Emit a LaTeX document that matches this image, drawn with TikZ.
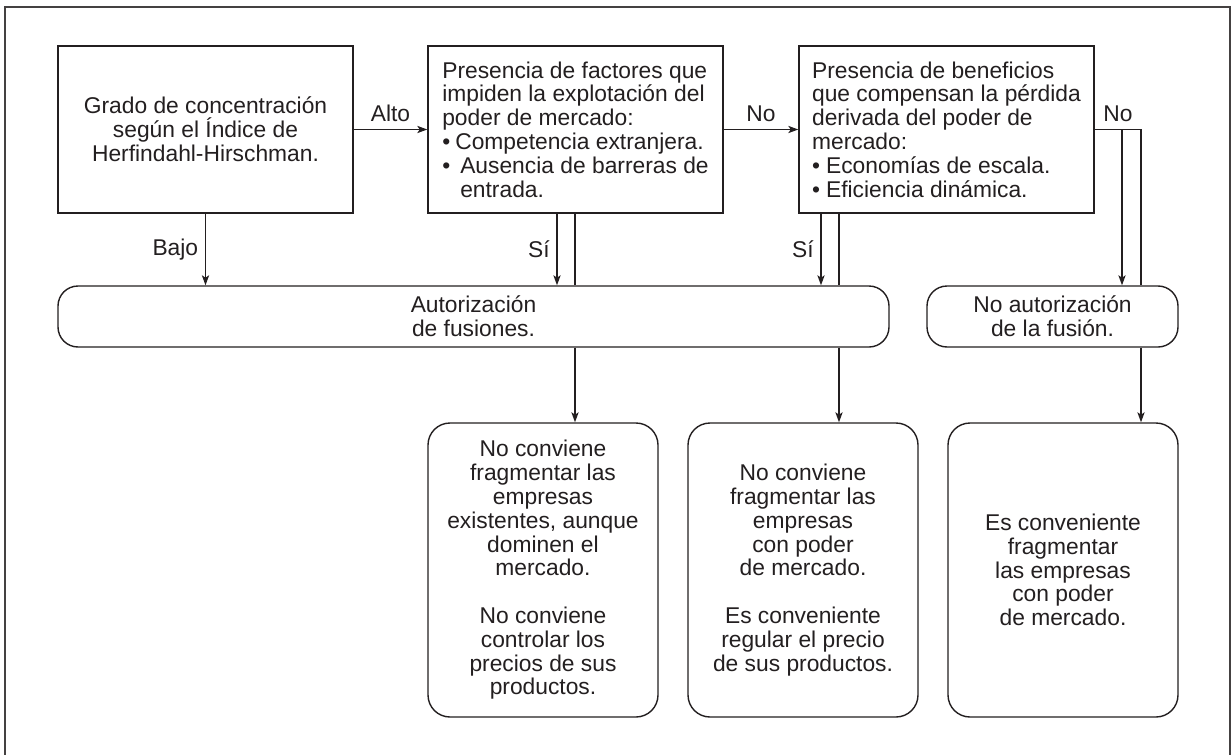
\documentclass[tikz,border=0pt]{standalone}
\usepackage{fontspec}
\setmainfont{Liberation Sans}
\usetikzlibrary{arrows.meta,calc}
\definecolor{ink}{RGB}{35,31,32}
\begin{document}
\begin{tikzpicture}[x=0.5pt,y=-0.5pt,
  every node/.style={font=\fontsize{11.4}{11.9}\selectfont, text=ink},
  sqbox/.style={draw=ink, line width=0.7pt, fill=white, minimum width=147.5pt, minimum height=83.5pt, inner sep=0pt},
  pill/.style={draw=ink, line width=0.7pt, fill=white, rounded corners=10pt, minimum height=30.5pt, inner sep=0pt, align=center},
  endbox/.style={draw=ink, line width=0.7pt, fill=white, rounded corners=11pt, minimum width=115pt, minimum height=147pt, inner sep=0pt, align=center},
  conn/.style={draw=ink, line width=0.7pt},
  arr/.style={conn, -{Stealth[length=5pt,width=3.6pt,inset=1.2pt]}},
  frame/.style={draw=ink!85, line width=0.9pt}
]
\useasboundingbox (0,0) rectangle (1232,755);
\draw[frame] (5,755) -- (5,7) -- (1230,7) -- (1230,755);

% decision boxes
\node[sqbox, align=center] (b1) at (205.5,129.5)
  {Grado de concentración\\según el Índice de\\Herfindahl-Hirschman.};
\node[sqbox, align=left] (b2) at (575.5,129.5)
  {Presencia de factores que\\impiden la explotación del\\poder de mercado:\\\makebox[6.5pt][l]{•}Competencia extranjera.\\\makebox[9pt][l]{•}Ausencia de barreras de\\\hspace*{9pt}entrada.};
\node[sqbox, align=left] (b3) at (946.5,129.5)
  {Presencia de beneficios\\que compensan la pérdida\\derivada del poder de\\mercado:\\\makebox[7pt][l]{•}Economías de escala.\\\makebox[7pt][l]{•}Eficiencia dinámica.};

% outcome pills
\node[pill, minimum width=415.5pt] (aut) at (473.5,316.5) {Autorización\\de fusiones.};
\node[pill, minimum width=125.5pt] (noaut) at (1052.5,316.5) {No autorización\\de la fusión.};

% final boxes
\node[endbox] (A) at (543,570)
  {No conviene\\fragmentar las\\empresas\\existentes, aunque\\dominen el\\mercado.\\[11.9pt]No conviene\\controlar los\\precios de sus\\productos.};
\node[endbox] (B) at (803,570)
  {No conviene\\fragmentar las\\empresas\\con poder\\de mercado.\\[11.9pt]Es conveniente\\regular el precio\\de sus productos.};
\node[endbox] (C) at (1063,570)
  {Es conveniente\\fragmentar\\las empresas\\con poder\\de mercado.};

% helper x positions
\coordinate (xs2) at (557,0);
\coordinate (xl2) at (575,0);
\coordinate (xs3) at (821,0);
\coordinate (xl3) at (839,0);
\coordinate (xn1) at (1122,0);
\coordinate (xn2) at (1141,0);

% connectors
\draw[arr] (b1.east) -- node[above]{Alto} (b2.west);
\draw[arr] (b2.east) -- node[above]{No} (b3.west);
\draw[arr] (b1.south) -- node[left]{Bajo} (b1.south |- aut.north);

\draw[arr] (xs2 |- b2.south) -- node[left]{Sí} (xs2 |- aut.north);
\draw[conn] (xl2 |- b2.south) -- (xl2 |- aut.north);
\draw[arr] (xl2 |- aut.south) -- (xl2 |- A.north);

\draw[arr] (xs3 |- b3.south) -- node[left]{Sí} (xs3 |- aut.north);
\draw[conn] (xl3 |- b3.south) -- (xl3 |- aut.north);
\draw[arr] (xl3 |- aut.south) -- (xl3 |- B.north);

\draw[conn] (b3.east) -- node[above]{No} (b3.east -| xn2) -- (xn2 |- noaut.north);
\draw[arr] (b3.east -| xn1) -- (xn1 |- noaut.north);
\draw[arr] (xn2 |- noaut.south) -- (xn2 |- C.north);
\end{tikzpicture}
\end{document}
